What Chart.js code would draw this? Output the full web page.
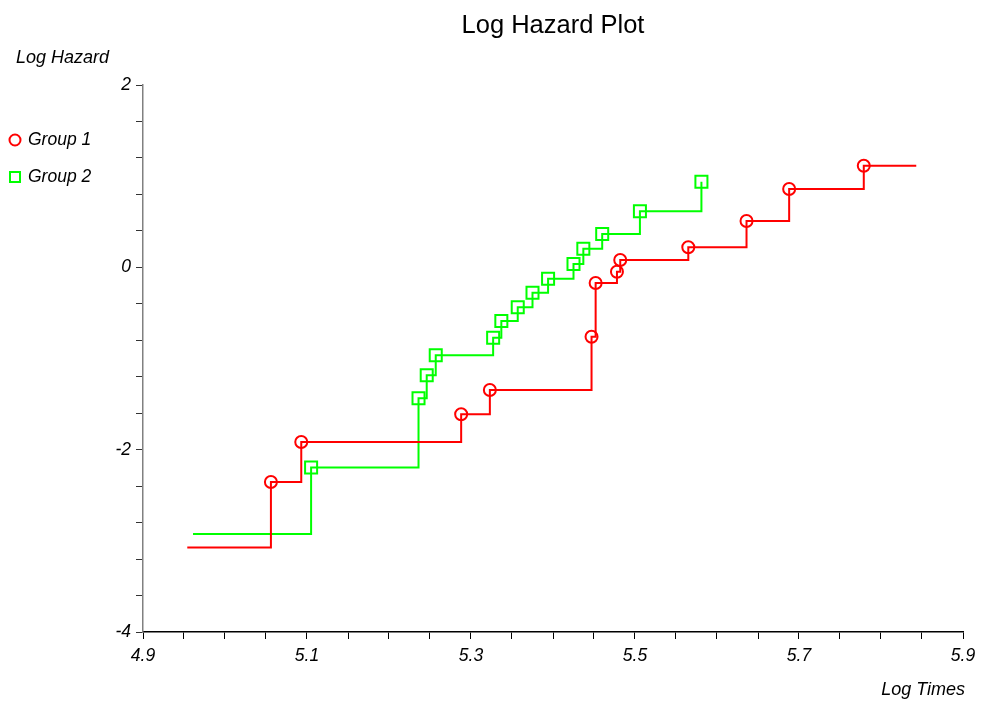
<!DOCTYPE html>
<html>
<head>
<meta charset="utf-8">
<script src="https://cdn.jsdelivr.net/npm/chart.js@4/dist/chart.umd.min.js"></script>
<style>
  html, body { margin: 0; padding: 0; background: #fff; }
  #wrap { width: 984px; height: 705px; position: relative; }
</style>
</head>
<body>
<div id="wrap"><canvas id="c" width="984" height="705"></canvas></div>
<script>
// ---- data ----
const chartTitle = "Log Hazard Plot";
const xAxisTitle = "Log Times";
const yAxisTitle = "Log Hazard";
const seriesNames = ["Group 1", "Group 2"];

// Group 1 (first point = start of curve, last point = end of curve, no markers)
const group1X = [4.954, 5.056, 5.093, 5.288, 5.323, 5.447, 5.452, 5.478, 5.482, 5.565, 5.636, 5.688, 5.779, 5.843];
const group1Y = [-3.073, -2.354, -1.916, -1.612, -1.345, -0.761, -0.172, -0.048, 0.081, 0.220, 0.508, 0.859, 1.115, 1.115];

// Group 2 (first point = start of curve, no marker)
const group2X = [4.961, 5.105, 5.236, 5.246, 5.257, 5.327, 5.337, 5.357, 5.375, 5.394, 5.425, 5.437, 5.460, 5.506, 5.581];
const group2Y = [-2.925, -2.195, -1.436, -1.184, -0.965, -0.772, -0.589, -0.438, -0.278, -0.125, 0.037, 0.204, 0.366, 0.615, 0.939];

const xMin = 4.9, xMax = 5.9, xMinorStep = 0.05, xLabelEvery = 0.2;
const yMin = -4, yMax = 2, yMinorStep = 0.4, yLabelEvery = 2;

const FONT = "'Liberation Sans', Arial, Helvetica, sans-serif";
const RED = "#ff0000", GREEN = "#00ff00";

function toPoints(xs, ys) { return xs.map((x, i) => ({ x: x, y: ys[i] })); }
function isMultiple(v, base, origin) {
  const k = (v - origin) / base;
  return Math.abs(k - Math.round(k)) < 1e-6;
}

const textPlugin = {
  id: 'texts',
  afterDraw(chart) {
    const ctx = chart.ctx;
    const ca = chart.chartArea;
    ctx.save();
    ctx.fillStyle = '#000';
    // title
    ctx.font = "25.5px " + FONT;
    ctx.textAlign = 'center';
    ctx.textBaseline = 'middle';
    ctx.fillText(chartTitle, (ca.left + ca.right) / 2, 26);
    // y-axis title
    ctx.font = "italic 18px " + FONT;
    ctx.textAlign = 'left';
    ctx.fillText(yAxisTitle, 16, 58);
    // x-axis title
    ctx.textAlign = 'right';
    ctx.fillText(xAxisTitle, 965, 690);
    // legend
    ctx.font = "italic 17.5px " + FONT;
    ctx.textAlign = 'left';
    ctx.fillText(seriesNames[0], 28, 140);
    ctx.fillText(seriesNames[1], 28, 177);
    ctx.lineWidth = 2;
    ctx.strokeStyle = RED;
    ctx.beginPath();
    ctx.arc(15, 140, 5.5, 0, Math.PI * 2);
    ctx.stroke();
    ctx.strokeStyle = GREEN;
    ctx.strokeRect(10, 172, 10, 10);
    ctx.restore();
  }
};

new Chart(document.getElementById('c'), {
  type: 'line',
  data: {
    datasets: [
      {
        label: seriesNames[0],
        data: toPoints(group1X, group1Y),
        borderColor: RED,
        borderWidth: 2,
        stepped: 'before',
        fill: false,
        pointStyle: 'circle',
        pointRadius: (c) => (c.dataIndex === 0 || c.dataIndex === group1X.length - 1) ? 0 : 6,
        pointBorderWidth: 2,
        pointBorderColor: RED,
        pointBackgroundColor: 'rgba(0,0,0,0)',
        pointHoverRadius: 6
      },
      {
        label: seriesNames[1],
        data: toPoints(group2X, group2Y),
        borderColor: GREEN,
        borderWidth: 2,
        stepped: 'before',
        fill: false,
        pointStyle: 'rect',
        pointRadius: (c) => c.dataIndex === 0 ? 0 : 8.5,
        pointBorderWidth: 2,
        pointBorderColor: GREEN,
        pointBackgroundColor: 'rgba(0,0,0,0)',
        pointHoverRadius: 8.5
      }
    ]
  },
  options: {
    responsive: false,
    animation: false,
    events: [],
    layout: { padding: { left: 0, right: 21, top: 85, bottom: 0 } },
    plugins: {
      legend: { display: false },
      title: { display: false },
      tooltip: { enabled: false }
    },
    scales: {
      x: {
        type: 'linear',
        min: xMin, max: xMax,
        afterFit(s) { s.height = 73; },
        afterBuildTicks(s) {
          const t = [];
          for (let v = xMin; v <= xMax + 1e-9; v += xMinorStep) t.push({ value: Math.round(v * 1000) / 1000 });
          s.ticks = t;
        },
        border: { display: true, color: '#000', width: 1.5 },
        grid: { drawOnChartArea: false, drawTicks: true, tickLength: 7, color: '#000', tickColor: '#000', lineWidth: 1 },
        ticks: {
          autoSkip: false,
          maxRotation: 0,
          padding: 7,
          color: '#000',
          font: { family: FONT, size: 17.5, style: 'italic' },
          callback: (v) => isMultiple(v, xLabelEvery, xMin) ? v.toFixed(1) : ''
        }
      },
      y: {
        type: 'linear',
        min: yMin, max: yMax,
        afterFit(s) { s.width = 143; },
        afterBuildTicks(s) {
          const t = [];
          for (let v = yMin; v <= yMax + 1e-9; v += yMinorStep) t.push({ value: Math.round(v * 1000) / 1000 });
          s.ticks = t;
        },
        border: { display: true, color: '#808080', width: 1.5 },
        grid: { drawOnChartArea: false, drawTicks: true, tickLength: 7, color: '#333', tickColor: '#333', lineWidth: 1 },
        ticks: {
          autoSkip: false,
          padding: 5,
          color: '#000',
          font: { family: FONT, size: 17.5, style: 'italic' },
          callback: (v) => isMultiple(v, yLabelEvery, yMin) ? String(Math.round(v)) : ''
        }
      }
    }
  },
  plugins: [textPlugin]
});
</script>
</body>
</html>
